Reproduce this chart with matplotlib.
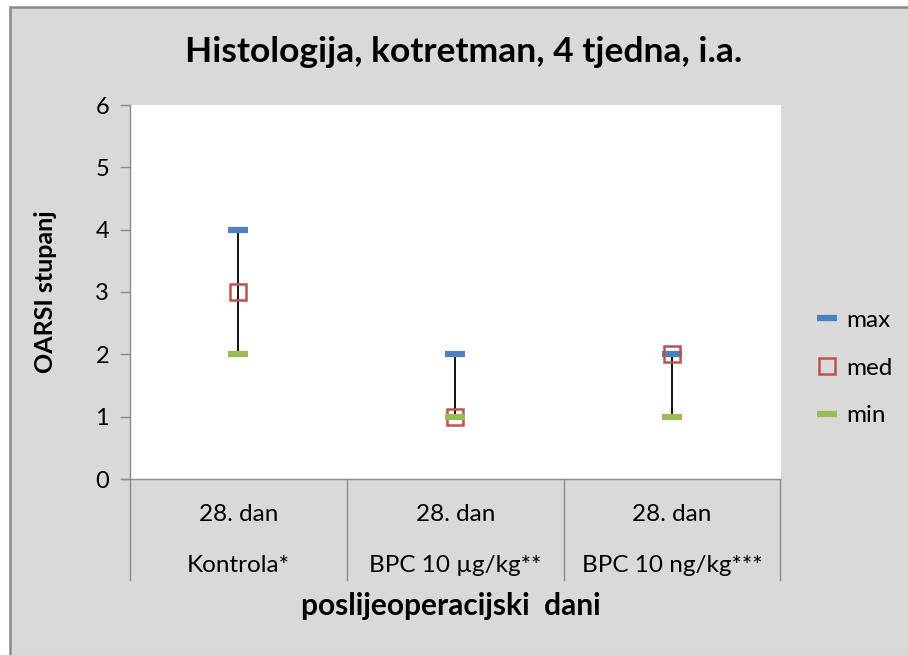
import matplotlib
matplotlib.use('Agg')
import matplotlib.pyplot as plt
from matplotlib.patches import Rectangle

plt.rcParams['font.family'] = ['Lato', 'DejaVu Sans']

# data
groups = ['Kontrola*', 'BPC 10 \u00b5g/kg**', 'BPC 10 ng/kg***']
days = ['28. dan', '28. dan', '28. dan']
max_vals = [4, 2, 2]
med_vals = [3, 1, 2]
min_vals = [2, 1, 1]

blue = '#4f81bd'
red = '#c0504d'
green = '#9bbb59'
grid_gray = '#8c8c8c'

W, H = 908, 655
fig = plt.figure(figsize=(W / 100, H / 100), dpi=100, facecolor='white')

# grey chart area with darker border at left/top (right/bottom cut off)
bg = Rectangle((10 / W, -0.1), 1.2, 1.1 - 7 / H, transform=fig.transFigure,
               facecolor='#d9d9d9', edgecolor='#8a8a8a', linewidth=1.8, zorder=-10)
fig.patches.append(bg)

ax = fig.add_axes([130 / W, 176 / H, 650.5 / W, 374 / H])
ax.set_facecolor('white')

x = list(range(len(groups)))

# high-low lines
for xi, lo, hi in zip(x, min_vals, max_vals):
    ax.plot([xi, xi], [lo, hi], color='black', lw=1.3, zorder=2)

h_max, = ax.plot(x, max_vals, ls='none', marker='_', markersize=14, mew=4.5,
                 color=blue, zorder=3, label='max')
h_med, = ax.plot(x, med_vals, ls='none', marker='s', markersize=12, mew=1.8,
                 mfc='none', mec=red, zorder=4, label='med')
h_min, = ax.plot(x, min_vals, ls='none', marker='_', markersize=14, mew=4.5,
                 color=green, zorder=5, label='min')

ax.set_xlim(-0.5, len(groups) - 0.5)
ax.set_ylim(0, 6)
ax.set_yticks(range(0, 7))
ax.tick_params(axis='y', labelsize=17, length=7, width=1, color=grid_gray, pad=8)
ax.set_xticks([])
for side in ['top', 'right']:
    ax.spines[side].set_visible(False)
ax.spines['left'].set_color(grid_gray)
ax.spines['bottom'].set_color(grid_gray)
ax.spines['left'].set_linewidth(1)
ax.spines['bottom'].set_linewidth(1)

# category table below the axis
tr = ax.get_xaxis_transform()
for b in [-0.5, 0.5, 1.5, 2.5]:
    ax.plot([b, b], [0, -0.27], color=grid_gray, lw=1, transform=tr, clip_on=False)
ax.plot([-0.5 - 0.035, -0.5], [0, 0], color=grid_gray, lw=1, transform=tr, clip_on=False)
for xi, d, g in zip(x, days, groups):
    ax.text(xi, -0.096, d, transform=tr, ha='center', va='center', fontsize=17.5)
    ax.text(xi, -0.23, g, transform=tr, ha='center', va='center', fontsize=17.5)

fig.text(464 / W, 1 - 52 / H, 'Histologija, kotretman, 4 tjedna, i.a.',
         ha='center', va='center', fontsize=25.5, fontweight='bold')
fig.text(46 / W, 1 - 292 / H, 'OARSI stupanj', rotation=90,
         ha='center', va='center', fontsize=18, fontweight='bold')
fig.text(451 / W, 1 - 606 / H, 'poslijeoperacijski  dani',
         ha='center', va='center', fontsize=21.5, fontweight='bold')

fig.legend(handles=[h_max, h_med, h_min], loc='center left',
           bbox_to_anchor=(805 / W, 1 - 368 / H), frameon=False, fontsize=17.5,
           labelspacing=1.1, handlelength=1.0, handletextpad=0.3, numpoints=1,
           borderaxespad=0)

fig.savefig('out.png', dpi=100, facecolor=fig.get_facecolor())
